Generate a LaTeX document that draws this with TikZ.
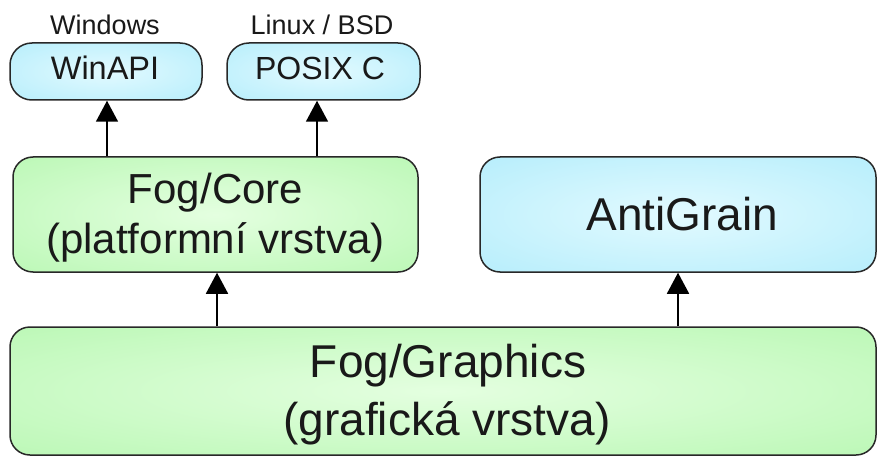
\documentclass[tikz,border=0pt]{standalone}
\usepackage{fontspec}
\setmainfont{Liberation Sans}
\usetikzlibrary{arrows.meta}
\definecolor{gin}{RGB}{228,255,224}
\definecolor{gout}{RGB}{172,245,166}
\definecolor{bin}{RGB}{226,250,255}
\definecolor{bout}{RGB}{166,233,250}
\definecolor{edge}{RGB}{40,40,40}
\definecolor{ink}{RGB}{25,25,25}
\pgfdeclareradialshading{greenglow}{\pgfpoint{0bp}{0bp}}{color(0bp)=(gin); color(50bp)=(gout); color(100bp)=(gout)}
\pgfdeclareradialshading{blueglow}{\pgfpoint{0bp}{0bp}}{color(0bp)=(bin); color(50bp)=(bout); color(100bp)=(bout)}
\tikzset{
  box/.style={draw=edge, line width=1.5pt, inner sep=0pt, rectangle},
  greenbox/.style={box, shading=greenglow, rounded corners=20pt},
  bluebox/.style={box, shading=blueglow, rounded corners=20pt},
  pill/.style={box, shading=blueglow, rounded corners=22pt},
  arr/.style={line width=1.7pt, -{Triangle[width=22pt,length=21pt]}},
  txt/.style={anchor=base, inner sep=0pt, text=ink}
}
\begin{document}
\begin{tikzpicture}[x=1pt,y=-1pt]
\useasboundingbox (0,0) rectangle (877,457);
\fill[white] (0,0) rectangle (877,457);
% boxes
\node[pill, minimum width=192pt, minimum height=57pt] (win) at (106,71.5) {};
\node[pill, minimum width=193pt, minimum height=57pt] (posix) at (323.5,71.5) {};
\node[greenbox, minimum width=405pt, minimum height=115pt] (core) at (215.5,214.5) {};
\node[bluebox, minimum width=396pt, minimum height=115pt] (agg) at (678,214.5) {};
\node[greenbox, minimum width=866pt, minimum height=128pt] (gfx) at (443,391) {};
% texts
\node[txt, font=\fontsize{27}{30}\selectfont] (winlbl) at (105,35) {Windows};
\node[txt, font=\fontsize{27}{30}\selectfont] (posixlbl) at (322,35) {Linux / BSD};
\node[txt, font=\fontsize{32.5}{36}\selectfont] (wint) at (105,80) {WinAPI};
\node[txt, font=\fontsize{32}{36}\selectfont] (posixt) at (320,80) {POSIX C};
\node[txt, font=\fontsize{42}{50}\selectfont] (coret1) at (215.5,203) {Fog/Core};
\node[txt, font=\fontsize{42}{50}\selectfont] (coret2) at (215.5,253) {(platformní vrstva)};
\node[txt, font=\fontsize{46}{50}\selectfont] (aggt) at (682.5,230) {AntiGrain};
\node[txt, font=\fontsize{46}{56}\selectfont] (gfxt1) at (448,377) {Fog/Graphics};
\node[txt, font=\fontsize{46}{56}\selectfont] (gfxt2) at (447,435) {(grafická vrstva)};
% connectors
\coordinate (c1) at (107,0);
\coordinate (c2) at (317,0);
\coordinate (c3) at (217,0);
\coordinate (c4) at (678,0);
\draw[arr] (core.north -| c1) -- (win.south -| c1);
\draw[arr] (core.north -| c2) -- (posix.south -| c2);
\draw[arr] (gfx.north -| c3) -- (core.south -| c3);
\draw[arr] (gfx.north -| c4) -- (agg.south -| c4);
\end{tikzpicture}
\end{document}
